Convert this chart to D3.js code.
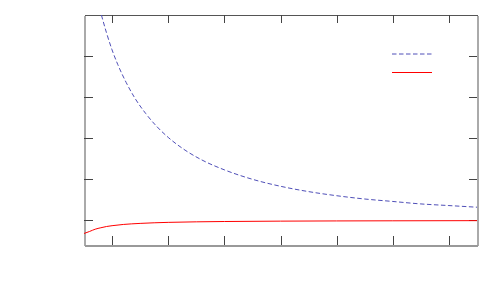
<!DOCTYPE html>
<html>
<head>
<meta charset="utf-8">
<script src="https://cdn.jsdelivr.net/npm/d3@7"></script>
<style>
  body { margin: 0; background: #fff; }
  .axis path, .axis line { shape-rendering: crispEdges; }
</style>
</head>
<body>
<div id="chart"></div>
<script>
// values
var xTicks = [1, 2, 3, 4, 5, 6, 7];
var yTicks = [1, 2, 3, 4, 5];

var blueX = [0.81, 0.9, 1.0, 1.1, 1.25, 1.4, 1.6, 1.8, 2.0, 2.3, 2.6, 3.0, 3.5, 4.0, 4.5, 5.0, 5.5, 6.0, 6.5, 7.0, 7.5];
var blueY = [6.0, 5.57, 5.15, 4.8, 4.36, 3.99, 3.6, 3.28, 3.02, 2.71, 2.47, 2.23, 2.0, 1.83, 1.7, 1.6, 1.52, 1.46, 1.4, 1.36, 1.32];

var redX = [0.5, 0.6, 0.7, 0.8, 0.9, 1.0, 1.2, 1.5, 2.0, 2.5, 3.0, 4.0, 5.0, 6.0, 7.5];
var redY = [0.68, 0.73, 0.785, 0.82, 0.85, 0.87, 0.9, 0.926, 0.951, 0.964, 0.972, 0.981, 0.986, 0.989, 0.993];

var width = 500, height = 300;
var plotL = 84, plotR = 477, plotT = 15, plotB = 245;

var svg = d3.select("#chart").append("svg")
    .attr("width", width)
    .attr("height", height);

var xScale = d3.scaleLinear()
    .domain([0.5, 7.5])
    .range([plotL, plotR]);
var yScale = d3.scaleLinear()
    .domain([0.4, 6])
    .range([plotB, plotT]);

// frame + ticks (gnuplot style, ticks pointing inwards)
var xAxisB = d3.axisBottom(xScale).tickValues(xTicks).tickSizeInner(-9).tickSizeOuter(0).tickFormat("");
var xAxisT = d3.axisTop(xScale).tickValues(xTicks).tickSizeInner(-8).tickSizeOuter(0).tickFormat("");
var yAxisL = d3.axisLeft(yScale).tickValues(yTicks).tickSizeInner(-9).tickSizeOuter(0).tickFormat("");
var yAxisR = d3.axisRight(yScale).tickValues(yTicks).tickSizeInner(-8).tickSizeOuter(0).tickFormat("");

function styleAxis(g, domainColor, domainWidth) {
    g.select(".domain").attr("stroke", domainColor).attr("stroke-width", domainWidth);
    g.selectAll(".tick line").attr("stroke", "#444").attr("stroke-width", 1);
}

svg.append("g").attr("class", "axis")
    .attr("transform", "translate(0," + plotT + ")")
    .call(xAxisT).call(styleAxis, "#555", 1);
svg.append("g").attr("class", "axis")
    .attr("transform", "translate(" + plotR + ",0)")
    .call(yAxisR).call(styleAxis, "#aaa", 2);
svg.append("g").attr("class", "axis")
    .attr("transform", "translate(" + plotL + ",0)")
    .call(yAxisL).call(styleAxis, "#aaa", 2);
svg.append("g").attr("class", "axis")
    .attr("transform", "translate(0," + plotB + ")")
    .call(xAxisB).call(styleAxis, "#999", 2);

svg.append("clipPath").attr("id", "clip")
    .append("rect")
    .attr("x", plotL).attr("y", plotT)
    .attr("width", plotR - plotL).attr("height", plotB - plotT);

var line = d3.line()
    .x(d => xScale(d[0]))
    .y(d => yScale(d[1]))
    .curve(d3.curveMonotoneX);

svg.append("path")
    .datum(d3.zip(blueX, blueY))
    .attr("clip-path", "url(#clip)")
    .attr("fill", "none")
    .attr("stroke", "#4f4fb8")
    .attr("stroke-width", 1)
    .attr("stroke-dasharray", "4.5,2.5")
    .attr("d", line);

svg.append("path")
    .datum(d3.zip(redX, redY))
    .attr("clip-path", "url(#clip)")
    .attr("fill", "none")
    .attr("stroke", "#f00")
    .attr("stroke-width", 1)
    .attr("d", line);

// legend (no labels in the picture)
var legend = svg.append("g");
legend.append("line")
    .attr("x1", 392).attr("x2", 432)
    .attr("y1", 54).attr("y2", 54)
    .attr("stroke", "#4f4fb8")
    .attr("stroke-dasharray", "4.5,2.5");
legend.append("line")
    .attr("x1", 392).attr("x2", 432)
    .attr("y1", 72.5).attr("y2", 72.5)
    .attr("stroke", "#f00");
</script>
</body>
</html>
